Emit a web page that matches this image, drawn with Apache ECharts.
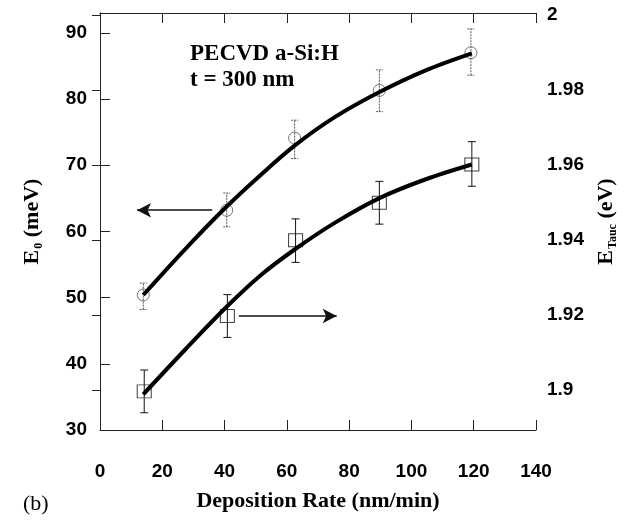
<!DOCTYPE html>
<html>
<head>
<meta charset="utf-8">
<script src="https://cdn.jsdelivr.net/npm/echarts@6/dist/echarts.min.js"></script>
<style>html,body{margin:0;padding:0;background:#fff}#c{width:634px;height:521px}</style>
</head>
<body>
<div id="c"></div>
<script>
// ---- data ----
const rateE0 = [13.9, 40.7, 62.5, 89.7, 119.1];
const e0 = [50.4, 63.2, 74.1, 81.3, 87.0];
const e0Lo = [48.2, 60.7, 71.0, 78.1, 83.6];
const e0Hi = [52.2, 65.8, 76.8, 84.4, 90.6];

const rateTauc = [14.2, 40.9, 62.8, 89.7, 119.4];
const eTauc = [1.8996, 1.9197, 1.9399, 1.9499, 1.9601];
const eTaucLo = [1.8939, 1.9140, 1.9340, 1.9442, 1.9543];
const eTaucHi = [1.9053, 1.9254, 1.9456, 1.9556, 1.9662];

// fitted curves
const fitX = [13.9, 27.3, 40.1, 51.5, 62.6, 75.5, 89.9, 104.4, 119.4];
const fitE0 = [50.4, 57.3, 63.5, 68.5, 73.0, 77.3, 81.1, 84.3, 86.9];
const fitTauc = [1.8988, 1.9107, 1.9217, 1.9305, 1.9375, 1.9446, 1.9512, 1.9561, 1.9601];

// arrows [x from, x to, y]
const arrowLeft = [36.0, 11.9, 63.2];
const arrowRight = [44.6, 76.0, 1.9197];

// tick labels
const xTicks = [0, 20, 40, 60, 80, 100, 120, 140];
const leftTicks = [30, 40, 50, 60, 70, 80, 90];
const rightTicks = [1.9, 1.92, 1.94, 1.96, 1.98, 2.0];

const sans = '"Liberation Sans", Arial, sans-serif';
const serif = '"Liberation Serif", "Times New Roman", serif';
const axisCol = '#222';

function zip(a, b) { return a.map((v, i) => [v, b[i]]); }
function errData(x, lo, hi) { return x.map((v, i) => [v, lo[i], hi[i]]); }
function errRender(color, dash, cap) {
  return function (params, api) {
    const x = api.value(0), lo = api.value(1), hi = api.value(2);
    const a = api.coord([x, lo]), b = api.coord([x, hi]);
    const st = { stroke: color, lineWidth: 1, lineDash: dash };
    return {
      type: 'group',
      children: [
        { type: 'line', shape: { x1: a[0], y1: a[1], x2: b[0], y2: b[1] }, style: st },
        { type: 'line', shape: { x1: a[0] - cap, y1: a[1], x2: a[0] + cap, y2: a[1] }, style: st },
        { type: 'line', shape: { x1: b[0] - cap, y1: b[1], x2: b[0] + cap, y2: b[1] }, style: st }
      ]
    };
  };
}

const chart = echarts.init(document.getElementById('c'), null, { renderer: 'canvas' });
const richName = {
  e: { fontFamily: serif, fontWeight: 'bold', fontSize: 22, color: '#000' },
  s: { fontFamily: serif, fontWeight: 'bold', fontSize: 12, color: '#000', padding: [14, 0, 0, 1] },
  t: { fontFamily: serif, fontWeight: 'bold', fontSize: 22, color: '#000' }
};
const tickFont = { fontFamily: sans, fontWeight: 'bold', fontSize: 19, color: '#000' };
chart.setOption({
  animation: false,
  backgroundColor: '#fff',
  grid: { left: 100, right: 98, top: 13, bottom: 91, containLabel: false },
  xAxis: [
    {
      type: 'value', position: 'bottom', min: 0, max: 140,
      name: 'Deposition Rate (nm/min)', nameLocation: 'middle', nameGap: 60,
      nameTextStyle: { fontFamily: serif, fontWeight: 'bold', fontSize: 22, color: '#000' },
      axisLine: { show: true, lineStyle: { color: axisCol, width: 1 } },
      axisTick: { show: true, inside: true, length: 10, customValues: xTicks, lineStyle: { color: axisCol } },
      axisLabel: Object.assign({ show: true, customValues: xTicks, margin: 32 }, tickFont),
      splitLine: { show: false }
    },
    {
      type: 'value', position: 'top', min: 0, max: 140,
      axisLine: { show: true, lineStyle: { color: axisCol, width: 1 } },
      axisTick: { show: true, inside: true, length: 10, customValues: xTicks, lineStyle: { color: axisCol } },
      axisLabel: { show: false },
      splitLine: { show: false }
    }
  ],
  yAxis: [
    {
      type: 'value', position: 'left', min: 30, max: 93,
      name: '{e|E}{s|0}{t| (meV)}', nameLocation: 'middle', nameGap: 55, nameRotate: 90,
      nameTextStyle: { rich: richName },
      axisLine: { show: true, lineStyle: { color: axisCol, width: 1 } },
      axisTick: { show: true, inside: true, length: 10, customValues: leftTicks, lineStyle: { color: axisCol } },
      axisLabel: Object.assign({ show: true, customValues: leftTicks, margin: 13 }, tickFont),
      splitLine: { show: false }
    },
    {
      type: 'value', position: 'right', min: 1.8893, max: 2.0005,
      name: '{e|E}{s|Tauc}{t| (eV)}', nameLocation: 'middle', nameGap: 52, nameRotate: 90,
      nameTextStyle: { rich: richName },
      axisLine: { show: true, lineStyle: { color: axisCol, width: 1 } },
      axisTick: { show: true, inside: true, length: 8, customValues: rightTicks, lineStyle: { color: axisCol } },
      axisLabel: Object.assign({ show: true, customValues: rightTicks, margin: 11,
        formatter: v => String(parseFloat(v.toFixed(2))) }, tickFont),
      splitLine: { show: false }
    }
  ],
  graphic: [
    { type: 'text', left: 190, top: 41, style: { text: 'PECVD a-Si:H\nt = 300 nm', font: 'bold 23px ' + serif, fill: '#000', lineHeight: 26 } },
    { type: 'text', left: 23, top: 493, style: { text: '(b)', font: 'normal 22px ' + serif, fill: '#000' } }
  ],
  series: [
    {
      type: 'custom', xAxisIndex: 0, yAxisIndex: 0, z: 2,
      renderItem: errRender('#555', [2, 1], 3.5),
      data: errData(rateE0, e0Lo, e0Hi)
    },
    {
      type: 'custom', xAxisIndex: 0, yAxisIndex: 1, z: 2,
      renderItem: errRender('#111', null, 4),
      data: errData(rateTauc, eTaucLo, eTaucHi)
    },
    {
      type: 'scatter', xAxisIndex: 0, yAxisIndex: 0, z: 3,
      symbol: 'circle', symbolSize: 12,
      itemStyle: { color: 'rgba(255,255,255,0)', borderColor: '#555', borderWidth: 1 },
      data: zip(rateE0, e0),
      markLine: {
        silent: true, symbol: ['none', 'arrow'], symbolSize: [11, 14],
        lineStyle: { color: '#111', width: 1.5, type: 'solid' }, label: { show: false },
        data: [[{ coord: [arrowLeft[0], arrowLeft[2]] }, { coord: [arrowLeft[1], arrowLeft[2]] }]]
      }
    },
    {
      type: 'scatter', xAxisIndex: 0, yAxisIndex: 1, z: 3,
      symbol: 'rect', symbolSize: [14, 13],
      itemStyle: { color: 'rgba(255,255,255,0)', borderColor: '#111', borderWidth: 1 },
      data: zip(rateTauc, eTauc),
      markLine: {
        silent: true, symbol: ['none', 'arrow'], symbolSize: [11, 14],
        lineStyle: { color: '#111', width: 1.5, type: 'solid' }, label: { show: false },
        data: [[{ coord: [arrowRight[0], arrowRight[2]] }, { coord: [arrowRight[1], arrowRight[2]] }]]
      }
    },
    {
      type: 'line', xAxisIndex: 0, yAxisIndex: 0, z: 5,
      smooth: 0.35, showSymbol: false, symbol: 'none',
      lineStyle: { color: '#000', width: 4 },
      data: zip(fitX, fitE0)
    },
    {
      type: 'line', xAxisIndex: 0, yAxisIndex: 1, z: 5,
      smooth: 0.35, showSymbol: false, symbol: 'none',
      lineStyle: { color: '#000', width: 4 },
      data: zip(fitX, fitTauc)
    }
  ]
});
</script>
</body>
</html>
